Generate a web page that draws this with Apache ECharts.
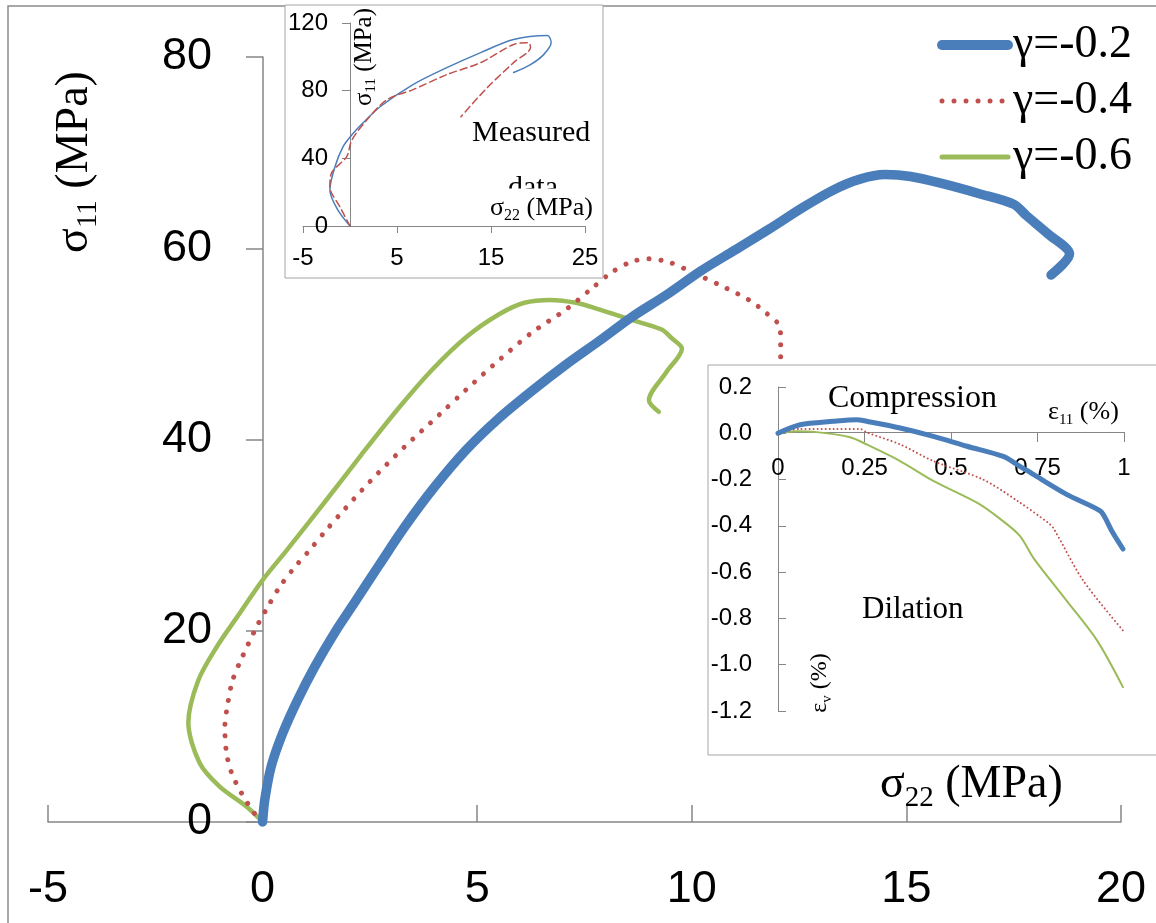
<!DOCTYPE html>
<html>
<head>
<meta charset="utf-8">
<script src="https://cdn.jsdelivr.net/npm/echarts@6/dist/echarts.min.js"></script>
<style>
html,body{margin:0;padding:0;background:#fff;}
#chart{width:1156px;height:923px;}
</style>
</head>
<body>
<div id="chart"></div>
<script>
// main plot: sigma11 vs sigma22 (MPa), one curve per gamma
var gammaNames = ['γ=-0.2', 'γ=-0.4', 'γ=-0.6'];
var mainG02 = [[0,0],[0.05,2.3],[0.2,5.8],[0.47,9.3],[0.82,12.8],[1.21,16.2],[1.68,19.8],[2.18,23.2],[2.72,26.9],[3.3,30.8],[4.0,35.0],[4.74,38.9],[5.5,42.2],[6.28,45.1],[7.06,47.8],[7.84,50.3],[8.6,52.8],[9.4,55.1],[10.2,57.6],[11.0,59.8],[11.8,62.0],[12.6,64.3],[13.3,66.1],[13.9,67.2],[14.5,67.7],[15.1,67.5],[15.8,66.8],[16.7,65.7],[17.5,64.6],[17.8,63.4],[18.3,61.5],[18.8,59.4],[18.37,57.2]];
var mainG04 = [[0,0],[-0.19,0.9],[-0.49,3.0],[-0.72,5.1],[-0.84,7.2],[-0.88,9.9],[-0.81,12.4],[-0.7,14.8],[-0.49,17.1],[-0.14,20.4],[0.12,22.5],[0.4,24.6],[0.74,26.6],[1.09,28.4],[1.44,30.3],[1.79,32.1],[2.5,35.6],[3.3,39.2],[4.12,42.6],[4.74,45.2],[5.51,48.3],[6.28,51.2],[7.07,53.6],[7.67,55.8],[8.14,57.5],[8.6,58.6],[9.0,58.9],[9.5,58.5],[10.0,57.5],[10.63,56.2],[11.33,54.6],[11.74,53.2],[12.05,51.8],[12.07,50.4],[12.07,47.5]];
var mainG06 = [[0,0],[-0.37,1.6],[-1.0,3.7],[-1.47,6.2],[-1.73,10.4],[-1.5,14.8],[-1.07,18.3],[-0.6,21.4],[0,25.3],[0.56,28.4],[1.49,33.7],[2.3,38.4],[3.19,43.4],[3.95,47.3],[4.74,50.7],[5.51,53.1],[6.1,54.3],[6.7,54.6],[7.3,54.3],[7.84,53.6],[8.6,52.5],[9.3,51.5],[9.53,50.6],[9.77,49.5],[9.4,47.0],[9.0,44.1],[9.23,42.9]];

// top-left inset: measured data
var measBlue = [[0,0],[-1.3,9.5],[-2.14,21.3],[-1.6,35],[-0.75,46.8],[0.2,53.9],[1.4,61],[3.2,70.5],[6.7,83.6],[10.3,93.6],[13.9,102.5],[17.4,110.2],[21,112.6],[21.4,108.4],[20.6,101.3],[19.2,95.4],[17.4,90.7]];
var measRed = [[0,0],[-1.07,11.3],[-2.14,23.1],[-1.96,31.4],[-0.36,40.9],[0.2,50.8],[1.8,62.8],[3.95,74.7],[6.7,80.6],[10.3,89.5],[13.9,96.6],[17.4,107.3],[19,108.4],[19.2,105.5],[17.4,96.6],[14.6,81.8],[11.8,64.6]];
var measXTicks = [-5, 5, 15, 25];

// bottom-right inset: volumetric strain vs axial strain (%)
var volG02 = [[0,0],[0.064,0.037],[0.16,0.052],[0.228,0.059],[0.256,0.052],[0.353,0.023],[0.449,-0.013],[0.546,-0.056],[0.651,-0.1],[0.69,-0.134],[0.738,-0.178],[0.834,-0.264],[0.931,-0.335],[0.945,-0.364],[0.964,-0.42],[0.997,-0.5]];
var volG04 = [[0,0],[0.064,0.019],[0.16,0.019],[0.237,0.019],[0.256,0.004],[0.353,-0.048],[0.449,-0.12],[0.593,-0.2],[0.69,-0.29],[0.781,-0.387],[0.796,-0.41],[0.882,-0.636],[0.997,-0.852]];
var volG06 = [[0,0],[0.055,0.009],[0.112,0.005],[0.208,-0.017],[0.256,-0.048],[0.353,-0.12],[0.449,-0.206],[0.575,-0.3],[0.642,-0.37],[0.699,-0.443],[0.738,-0.538],[0.834,-0.723],[0.922,-0.895],[0.997,-1.097]];

var BLUE = '#4a7ebb', RED = '#c0504d', GREEN = '#9bbb59', AX = '#868686';
var SERIF = '"Liberation Serif", "Times New Roman", serif';
var SANS = '"Liberation Sans", Arial, sans-serif';

function subText(base, sub, rest, size, subSize) {
	return {
		text: '{a|' + base + '}{b|' + sub + '}{a|' + rest + '}',
		rich: {
			a: {fontSize: size, fontFamily: SERIF, lineHeight: size * 1.2, fill: '#000'},
			b: {fontSize: subSize, fontFamily: SERIF, lineHeight: subSize + 3, verticalAlign: 'bottom', fill: '#000'}
		},
		fill: '#000'
	};
}
function mkText(x, y, txt, rot, z, align) {
	var st = txt;
	st.align = align || 'left';
	st.verticalAlign = 'middle';
	return {type: 'text', x: x, y: y, rotation: rot || 0, z: z || 20, style: st};
}
// axes sit at the other axis' zero via offset (labels then follow the line)
function valAxis(idx, min, max, interval, o) {
	var a = {
		type: 'value', gridIndex: idx, min: min, max: max, interval: interval,
		z: idx ? 10 : 0, offset: o.offset || 0,
		splitLine: {show: false},
		axisLine: {show: true, onZero: false, lineStyle: {color: AX, width: o.lw || 1}},
		axisTick: {show: true, inside: !!o.tickIn, length: o.tickLen, lineStyle: {color: AX, width: o.lw || 1}},
		axisLabel: {color: '#000', fontFamily: SANS, fontSize: o.fs, margin: o.margin, formatter: o.fmt}
	};
	return a;
}
function line(name, data, xi, color, width, type, z) {
	return {
		name: name, type: 'line', data: data, xAxisIndex: xi, yAxisIndex: xi,
		symbol: 'none', showSymbol: false, smooth: 0.3, clip: false, z: z,
		lineStyle: {color: color, width: width, type: type || 'solid', cap: 'round', join: 'round'},
		itemStyle: {color: color}
	};
}

var chart = echarts.init(document.getElementById('chart'));
var inset1X = valAxis(1, -5, 25, 5, {fs: 24, margin: 20, tickLen: 7});
inset1X.axisLabel.customValues = measXTicks;
inset1X.axisTick.customValues = measXTicks;

var option = {
	animation: false,
	backgroundColor: '#fff',
	grid: [
		{left: 48, top: 57, width: 1073, height: 765, containLabel: false, outerBoundsMode: 'none'},
		{left: 303, top: 23, width: 282, height: 203, containLabel: false, outerBoundsMode: 'none'},
		{left: 778, top: 387, width: 346, height: 324, containLabel: false, outerBoundsMode: 'none'}
	],
	xAxis: [
		valAxis(0, -5, 20, 5, {fs: 45, margin: 45, tickLen: 17, tickIn: true, lw: 1.5}),
		inset1X,
		valAxis(2, 0, 1, 0.25, {fs: 24, margin: 24, tickLen: 10, offset: -279})
	],
	yAxis: [
		valAxis(0, 0, 80, 20, {fs: 45, margin: 51, tickLen: 17, lw: 1.5, offset: -215}),
		valAxis(1, 0, 120, 40, {fs: 24, margin: 22, tickLen: 8, offset: -47}),
		valAxis(2, -1.2, 0.2, 0.2, {fs: 24, margin: 26, tickLen: 8, tickIn: true, fmt: function (v) { return v.toFixed(1); }})
	],
	legend: {
		orient: 'vertical', left: 937, top: 22, padding: 0, itemWidth: 66, itemHeight: 14, itemGap: 10,
		textStyle: {fontFamily: SERIF, fontSize: 46, color: '#000'},
		data: [
			{name: gammaNames[0], lineStyle: {width: 10}, itemStyle: {opacity: 0}},
			{name: gammaNames[1], lineStyle: {width: 5}, itemStyle: {opacity: 0}},
			{name: gammaNames[2], lineStyle: {width: 5}, itemStyle: {opacity: 0}}
		]
	},
	series: [
		line(gammaNames[2], mainG06, 0, GREEN, 4.5, 'solid', 2),
		line(gammaNames[1], mainG04, 0, RED, 5, [0.01, 12], 2),
		line(gammaNames[0], mainG02, 0, BLUE, 9.5, 'solid', 2),
		line('measured σ11', measBlue, 1, BLUE, 1.5, 'solid', 11),
		line('measured σ22', measRed, 1, RED, 1.5, [7, 4], 11),
		line('εv γ=-0.6', volG06, 2, GREEN, 2, 'solid', 11),
		line('εv γ=-0.4', volG04, 2, RED, 2, [0.01, 4], 11),
		line('εv γ=-0.2', volG02, 2, BLUE, 5, 'solid', 11)
	],
	graphic: [
		{type: 'rect', z: 1, shape: {x: 8, y: 6, width: 1200, height: 1000}, style: {fill: 'none', stroke: '#8c8c8c', lineWidth: 1.5}},
		{type: 'rect', z: 5, shape: {x: 285, y: 5, width: 318, height: 273}, style: {fill: '#fff', stroke: '#a6a6a6', lineWidth: 1}},
		{type: 'rect', z: 5, shape: {x: 708, y: 365, width: 470, height: 390}, style: {fill: '#fff', stroke: '#a6a6a6', lineWidth: 1}},
		// main axis names
		mkText(75, 162, subText('σ', '11', ' (MPa)', 46, 29), Math.PI / 2, 3, 'center'),
		mkText(880, 785, subText('σ', '22', ' (MPa)', 46, 29), 0, 3),
		// inset 1 texts
		mkText(364, 57, subText('σ', '11', ' (MPa)', 25, 15), Math.PI / 2, 20, 'center'),
		mkText(472, 133, {text: 'Measured', fontFamily: SERIF, fontSize: 30, fill: '#000'}, 0, 20),
		mkText(508, 188, {text: 'data', fontFamily: SERIF, fontSize: 30, fill: '#000'}, 0, 20),
		{type: 'rect', z: 21, shape: {x: 500, y: 188.5, width: 80, height: 14}, style: {fill: '#fff'}},
		mkText(490, 208, subText('σ', '22', ' (MPa)', 26, 16), 0, 22),
		// inset 2 texts
		mkText(828, 399, {text: 'Compression', fontFamily: SERIF, fontSize: 32, fill: '#000'}, 0, 20),
		mkText(1048, 412, subText('ε', '11', ' (%)', 26, 15), 0, 20),
		mkText(862, 610, {text: 'Dilation', fontFamily: SERIF, fontSize: 31, fill: '#000'}, 0, 20),
		mkText(820, 683, subText('ε', 'v', ' (%)', 24, 15), Math.PI / 2, 20, 'center')
	]
};
chart.setOption(option);
</script>
</body>
</html>
